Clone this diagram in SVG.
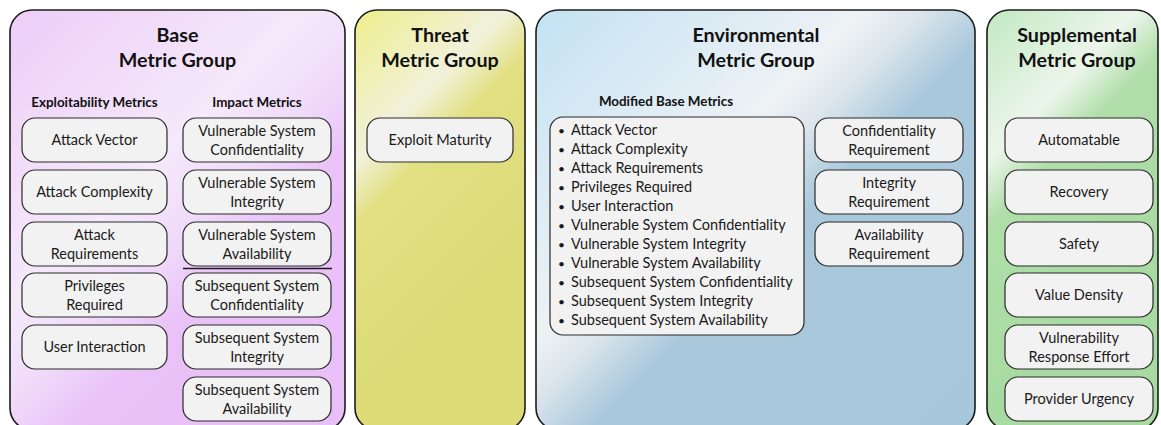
<svg xmlns="http://www.w3.org/2000/svg" width="1161" height="425" viewBox="0 0 1161 425">
  <style>
    .panel { stroke: #1c1c1c; stroke-width: 1.6; }
    .node { fill: #f2f2f2; stroke: #2a2a2a; stroke-width: 1.2; }
    .head { font-family: Lato, "Liberation Sans", sans-serif; font-weight: bold; font-size: 19.7px; fill: #111; text-anchor: middle; }
    .sect { font-family: Lato, "Liberation Sans", sans-serif; font-weight: bold; font-size: 13.4px; fill: #111; text-anchor: middle; }
    .lbl { font-family: Lato, "Liberation Sans", sans-serif; font-size: 14.5px; fill: #1a1a1a; text-anchor: middle; }
    .item { font-family: Lato, "Liberation Sans", sans-serif; font-size: 14.5px; fill: #1a1a1a; }
    .bullet { font-size: 12px; }
    .sep { stroke: #1c1c1c; stroke-width: 1.6; }
  </style>
  <defs>
    <linearGradient id="gBase" gradientUnits="userSpaceOnUse" x1="10" y1="10" x2="424" y2="424">
      <stop offset="0" stop-color="#edcdf8"/>
      <stop offset="0.36" stop-color="#f5e9fa"/>
      <stop offset="0.47" stop-color="#f0dcfa"/>
      <stop offset="0.58" stop-color="#e9c2f8"/>
      <stop offset="1" stop-color="#e8bef7"/>
    </linearGradient>
    <linearGradient id="gThreat" gradientUnits="userSpaceOnUse" x1="355" y1="10" x2="555" y2="210">
      <stop offset="0" stop-color="#eeee8c"/>
      <stop offset="0.38" stop-color="#f1f1dc"/>
      <stop offset="0.54" stop-color="#e2e082"/>
      <stop offset="1" stop-color="#dcdb78"/>
    </linearGradient>
    <linearGradient id="gEnv" gradientUnits="userSpaceOnUse" x1="536" y1="10" x2="950" y2="424">
      <stop offset="0" stop-color="#c3e2f3"/>
      <stop offset="0.40" stop-color="#eef2f5"/>
      <stop offset="0.47" stop-color="#dbe5ec"/>
      <stop offset="0.57" stop-color="#aac8dc"/>
      <stop offset="1" stop-color="#a7c7db"/>
    </linearGradient>
    <linearGradient id="gSupp" gradientUnits="userSpaceOnUse" x1="987" y1="10" x2="1187" y2="210">
      <stop offset="0" stop-color="#c2e9c2"/>
      <stop offset="0.38" stop-color="#ecf5eb"/>
      <stop offset="0.54" stop-color="#b0dea9"/>
      <stop offset="1" stop-color="#a8dba2"/>
    </linearGradient>
  </defs>

  <!-- Base metric group -->
  <g id="base-group">
    <rect class="panel" x="10" y="10" width="335" height="420" rx="22" fill="url(#gBase)"/>
    <text class="head" x="177.5" y="42">Base</text>
    <text class="head" x="177.5" y="67">Metric Group</text>
    <text class="sect" x="94.5" y="107">Exploitability Metrics</text>
    <text class="sect" x="257" y="107">Impact Metrics</text>
  </g>
  <g id="attack-vector">
    <rect class="node" x="22" y="118" width="145" height="44" rx="13"/>
    <text class="lbl" x="94.5" y="145">Attack Vector</text>
  </g>
  <g id="attack-complexity">
    <rect class="node" x="22" y="170" width="145" height="44" rx="13"/>
    <text class="lbl" x="94.5" y="197">Attack Complexity</text>
  </g>
  <g id="attack-requirements">
    <rect class="node" x="22" y="222" width="145" height="44" rx="13"/>
    <text class="lbl" x="94.5" y="240">Attack<tspan x="94.5" dy="18.5">Requirements</tspan></text>
  </g>
  <g id="privileges-required">
    <rect class="node" x="22" y="273" width="145" height="44" rx="13"/>
    <text class="lbl" x="94.5" y="291">Privileges<tspan x="94.5" dy="18.5">Required</tspan></text>
  </g>
  <g id="user-interaction">
    <rect class="node" x="22" y="325" width="145" height="44" rx="13"/>
    <text class="lbl" x="94.5" y="352">User Interaction</text>
  </g>
  <g id="vs-confidentiality">
    <rect class="node" x="183" y="118" width="148" height="44" rx="13"/>
    <text class="lbl" x="257" y="136">Vulnerable System<tspan x="257" dy="18.5">Confidentiality</tspan></text>
  </g>
  <g id="vs-integrity">
    <rect class="node" x="183" y="170" width="148" height="44" rx="13"/>
    <text class="lbl" x="257" y="188">Vulnerable System<tspan x="257" dy="18.5">Integrity</tspan></text>
  </g>
  <g id="vs-availability">
    <rect class="node" x="183" y="222" width="148" height="44" rx="13"/>
    <text class="lbl" x="257" y="240">Vulnerable System<tspan x="257" dy="18.5">Availability</tspan></text>
  </g>
  <g id="ss-confidentiality">
    <rect class="node" x="183" y="273" width="148" height="44" rx="13"/>
    <text class="lbl" x="257" y="291">Subsequent System<tspan x="257" dy="18.5">Confidentiality</tspan></text>
  </g>
  <g id="ss-integrity">
    <rect class="node" x="183" y="325" width="148" height="44" rx="13"/>
    <text class="lbl" x="257" y="343">Subsequent System<tspan x="257" dy="18.5">Integrity</tspan></text>
  </g>
  <g id="ss-availability">
    <rect class="node" x="183" y="377" width="148" height="44" rx="13"/>
    <text class="lbl" x="257" y="395">Subsequent System<tspan x="257" dy="18.5">Availability</tspan></text>
  </g>

  <!-- Threat metric group -->
  <g id="threat-group">
    <rect class="panel" x="355" y="10" width="170" height="420" rx="22" fill="url(#gThreat)"/>
    <text class="head" x="440" y="42">Threat</text>
    <text class="head" x="440" y="67">Metric Group</text>
  </g>
  <g id="exploit-maturity">
    <rect class="node" x="367" y="118" width="146" height="44" rx="13"/>
    <text class="lbl" x="440" y="145">Exploit Maturity</text>
  </g>

  <!-- Environmental metric group -->
  <g id="environmental-group">
    <rect class="panel" x="536" y="10" width="439" height="420" rx="22" fill="url(#gEnv)"/>
    <text class="head" x="756" y="42">Environmental</text>
    <text class="head" x="756" y="67">Metric Group</text>
    <text class="sect" x="666" y="106">Modified Base Metrics</text>
  </g>
  <g id="modified-base-metrics">
    <rect class="node" x="550" y="117" width="254" height="218" rx="13"/>
    <g class="item">
      <text x="558" y="135"><tspan class="bullet">•</tspan><tspan x="571">Attack Vector</tspan></text>
      <text x="558" y="154"><tspan class="bullet">•</tspan><tspan x="571">Attack Complexity</tspan></text>
      <text x="558" y="173"><tspan class="bullet">•</tspan><tspan x="571">Attack Requirements</tspan></text>
      <text x="558" y="192"><tspan class="bullet">•</tspan><tspan x="571">Privileges Required</tspan></text>
      <text x="558" y="211"><tspan class="bullet">•</tspan><tspan x="571">User Interaction</tspan></text>
      <text x="558" y="230"><tspan class="bullet">•</tspan><tspan x="571">Vulnerable System Confidentiality</tspan></text>
      <text x="558" y="249"><tspan class="bullet">•</tspan><tspan x="571">Vulnerable System Integrity</tspan></text>
      <text x="558" y="268"><tspan class="bullet">•</tspan><tspan x="571">Vulnerable System Availability</tspan></text>
      <text x="558" y="287"><tspan class="bullet">•</tspan><tspan x="571">Subsequent System Confidentiality</tspan></text>
      <text x="558" y="306"><tspan class="bullet">•</tspan><tspan x="571">Subsequent System Integrity</tspan></text>
      <text x="558" y="325"><tspan class="bullet">•</tspan><tspan x="571">Subsequent System Availability</tspan></text>
    </g>
  </g>
  <g id="confidentiality-requirement">
    <rect class="node" x="815" y="118" width="148" height="44" rx="13"/>
    <text class="lbl" x="889" y="136">Confidentiality<tspan x="889" dy="18.5">Requirement</tspan></text>
  </g>
  <g id="integrity-requirement">
    <rect class="node" x="815" y="170" width="148" height="44" rx="13"/>
    <text class="lbl" x="889" y="188">Integrity<tspan x="889" dy="18.5">Requirement</tspan></text>
  </g>
  <g id="availability-requirement">
    <rect class="node" x="815" y="222" width="148" height="44" rx="13"/>
    <text class="lbl" x="889" y="240">Availability<tspan x="889" dy="18.5">Requirement</tspan></text>
  </g>

  <!-- Supplemental metric group -->
  <g id="supplemental-group">
    <rect class="panel" x="987" y="10" width="171" height="420" rx="22" fill="url(#gSupp)"/>
    <text class="head" x="1077" y="42">Supplemental</text>
    <text class="head" x="1077" y="67">Metric Group</text>
  </g>
  <g id="automatable">
    <rect class="node" x="1005" y="118" width="148" height="44" rx="13"/>
    <text class="lbl" x="1079" y="145">Automatable</text>
  </g>
  <g id="recovery">
    <rect class="node" x="1005" y="170" width="148" height="44" rx="13"/>
    <text class="lbl" x="1079" y="197">Recovery</text>
  </g>
  <g id="safety">
    <rect class="node" x="1005" y="222" width="148" height="44" rx="13"/>
    <text class="lbl" x="1079" y="249">Safety</text>
  </g>
  <g id="value-density">
    <rect class="node" x="1005" y="273" width="148" height="44" rx="13"/>
    <text class="lbl" x="1079" y="300">Value Density</text>
  </g>
  <g id="vulnerability-response-effort">
    <rect class="node" x="1005" y="325" width="148" height="44" rx="13"/>
    <text class="lbl" x="1079" y="343">Vulnerability<tspan x="1079" dy="18.5">Response Effort</tspan></text>
  </g>
  <g id="provider-urgency">
    <rect class="node" x="1005" y="377" width="148" height="44" rx="13"/>
    <text class="lbl" x="1079" y="404">Provider Urgency</text>
  </g>

  <!-- Divider between vulnerable and subsequent system impact metrics -->
  <g id="connectors">
    <line class="sep" x1="183" y1="268.5" x2="332" y2="268.5"/>
  </g>
</svg>
